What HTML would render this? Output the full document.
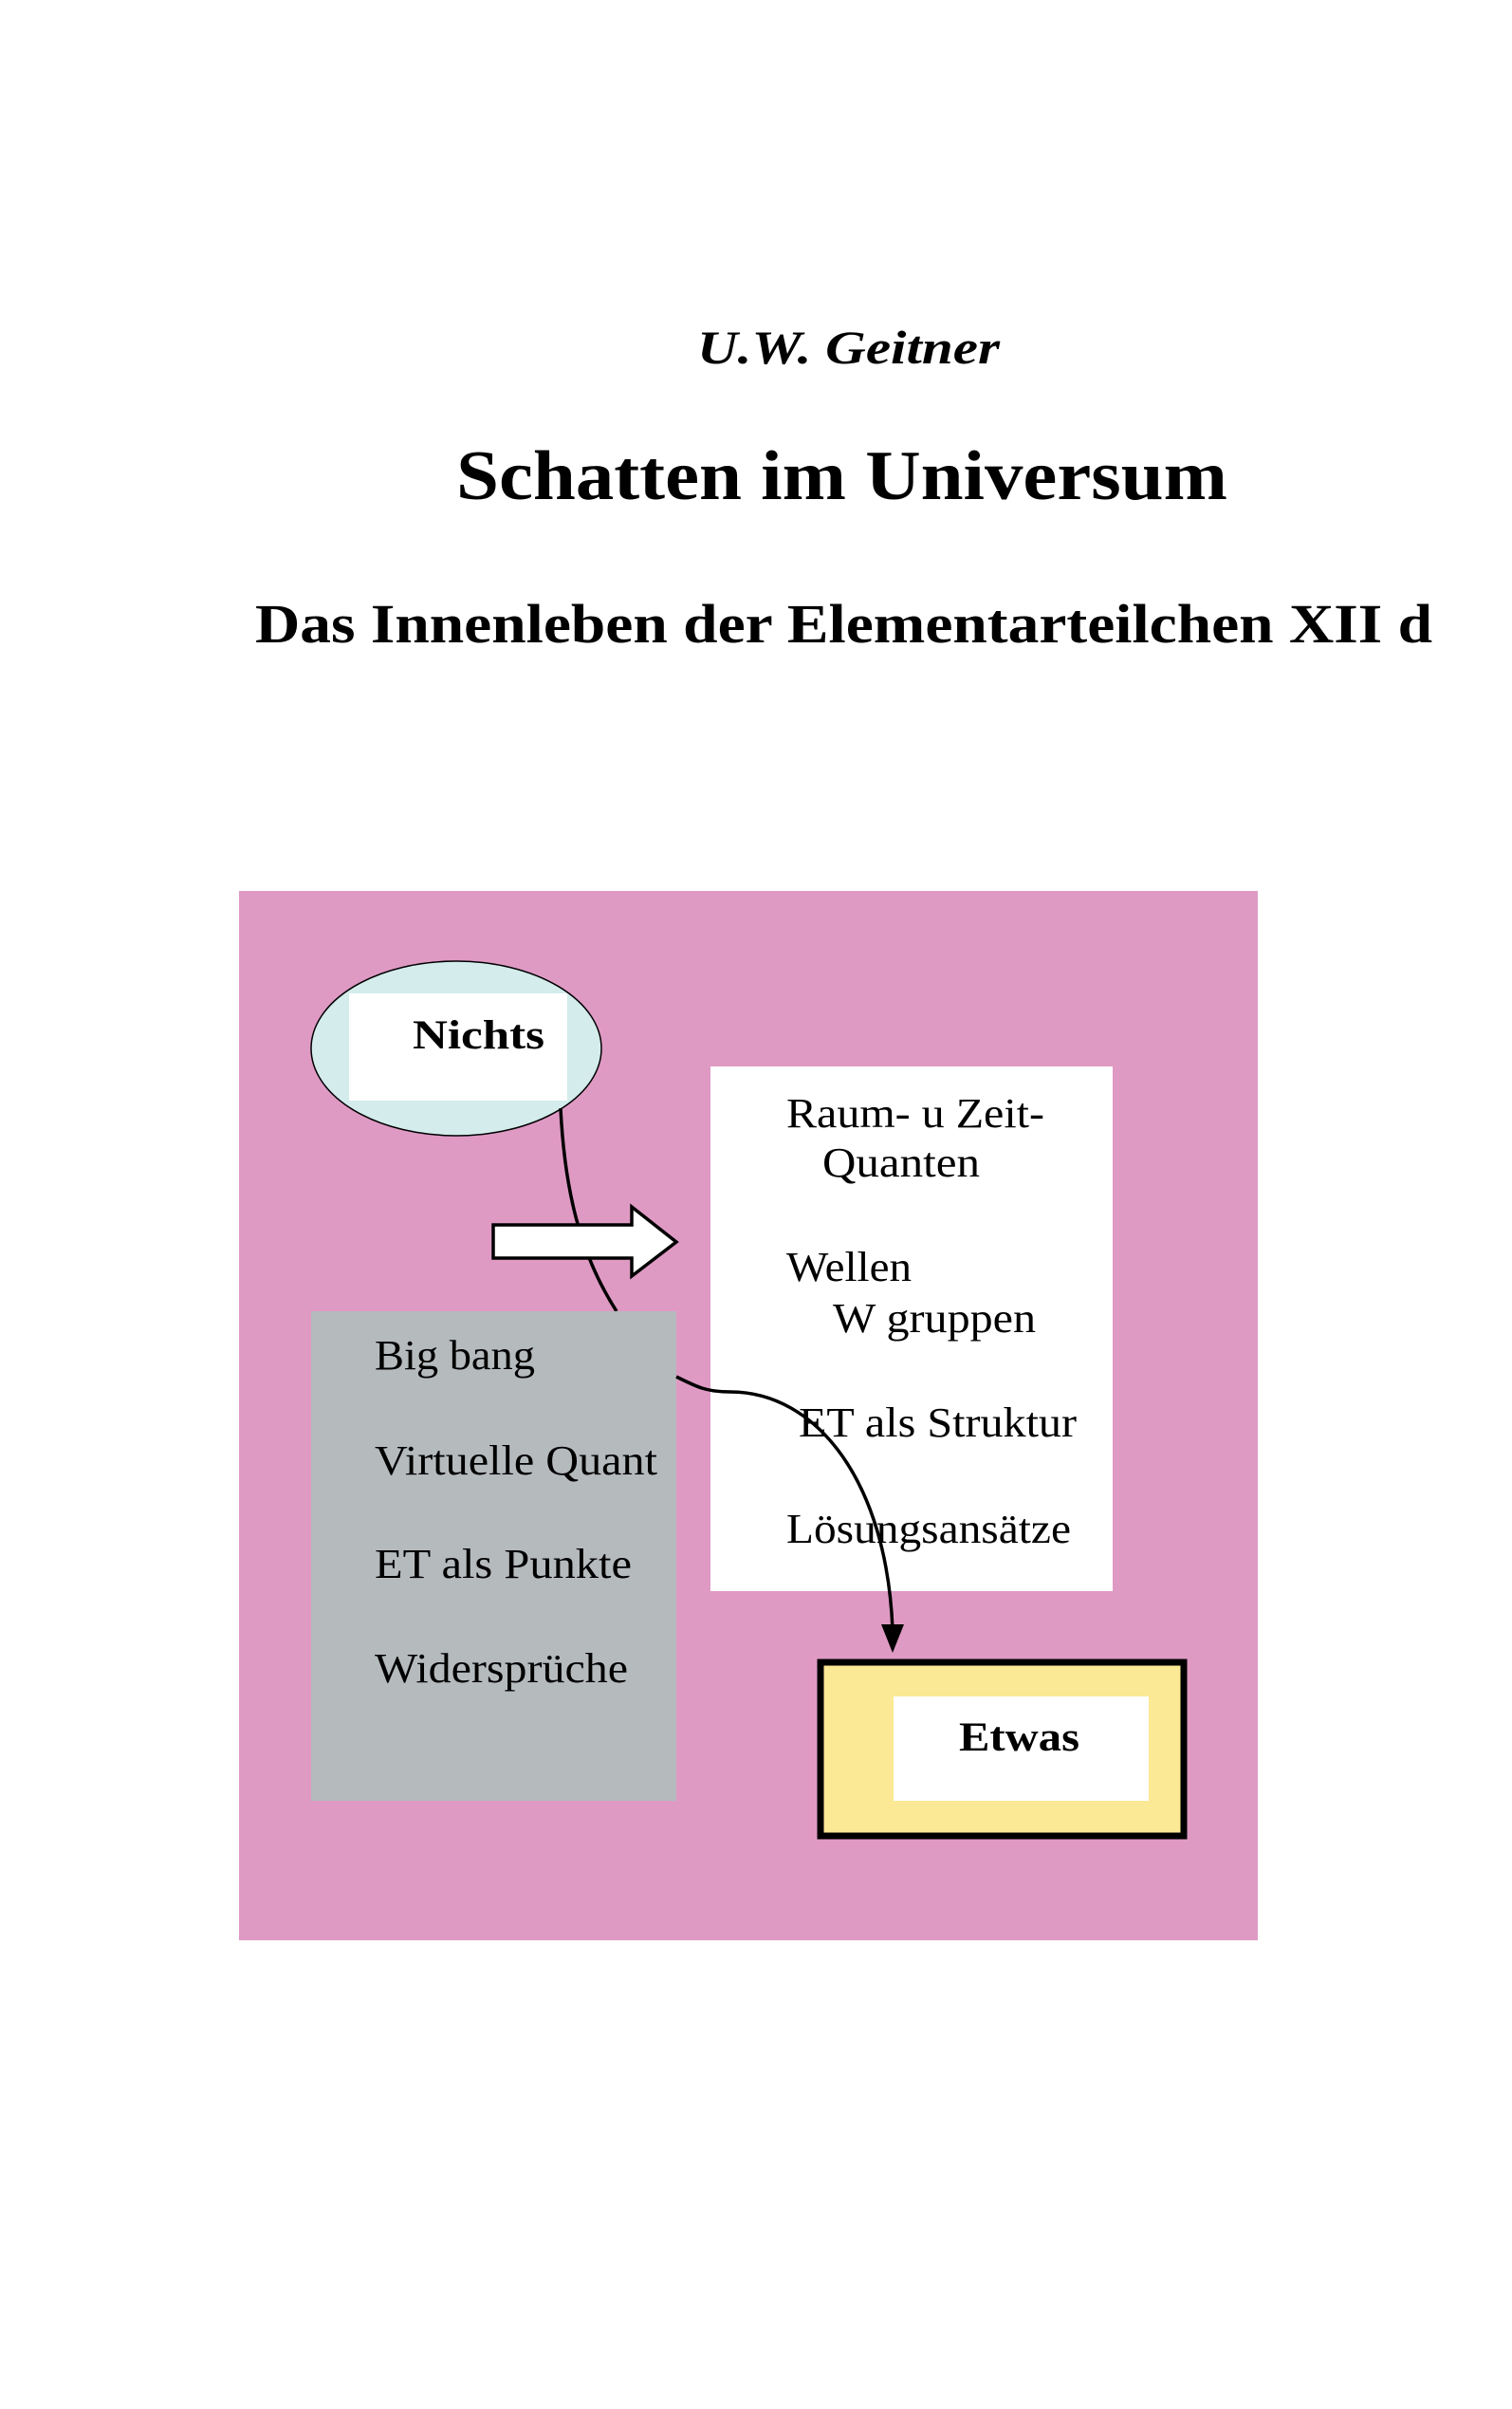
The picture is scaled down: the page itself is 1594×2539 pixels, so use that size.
<!DOCTYPE html>
<html><head><meta charset="utf-8"><style>
html,body{margin:0;padding:0;background:#fff;}
svg{display:block;}
text{font-family:"Liberation Serif",serif;fill:#000;}
</style></head><body>
<svg width="1594" height="2539" viewBox="0 0 1594 2539" xmlns="http://www.w3.org/2000/svg">
<rect width="1594" height="2539" fill="#fff"/>
<text x="735" y="383" font-size="50" font-weight="bold" font-style="italic" textLength="319" lengthAdjust="spacingAndGlyphs">U.W. Geitner</text>
<text x="481" y="526" font-size="74" font-weight="bold" textLength="813" lengthAdjust="spacingAndGlyphs">Schatten im Universum</text>
<text x="269" y="677" font-size="58" font-weight="bold" textLength="1241" lengthAdjust="spacingAndGlyphs">Das Innenleben der Elementarteilchen XII d</text>

<rect x="252" y="939" width="1074" height="1106" fill="#df9ac4"/>
<ellipse cx="481" cy="1105" rx="153" ry="92" fill="#d4ecec" stroke="#000" stroke-width="1.5"/>
<rect x="368" y="1047" width="230" height="113" fill="#fff"/>
<text x="435" y="1105" font-size="43" font-weight="bold" textLength="139" lengthAdjust="spacingAndGlyphs">Nichts</text>

<rect x="749" y="1124" width="424" height="553" fill="#fff"/>
<g font-size="44">
<text x="829" y="1188" textLength="272" lengthAdjust="spacingAndGlyphs">Raum- u Zeit-</text>
<text x="867" y="1240" textLength="166" lengthAdjust="spacingAndGlyphs">Quanten</text>
<text x="829" y="1350" textLength="132" lengthAdjust="spacingAndGlyphs">Wellen</text>
<text x="878" y="1404" textLength="214" lengthAdjust="spacingAndGlyphs">W gruppen</text>
<text x="842" y="1514" textLength="293" lengthAdjust="spacingAndGlyphs">ET als Struktur</text>
<text x="829" y="1626" textLength="300" lengthAdjust="spacingAndGlyphs">Lösungsansätze</text>
</g>

<path d="M591 1168 C595 1250 610 1320 650 1382" fill="none" stroke="#000" stroke-width="3.5"/>
<polygon points="520,1291 666,1291 666,1272 713,1309 666,1345 666,1326 520,1326" fill="#fff" stroke="#000" stroke-width="3.5"/>

<rect x="328" y="1382" width="385" height="516" fill="#b5babd"/>
<g font-size="44">
<text x="395" y="1443" textLength="169" lengthAdjust="spacingAndGlyphs">Big bang</text>
<text x="395" y="1554" textLength="298" lengthAdjust="spacingAndGlyphs">Virtuelle Quant</text>
<text x="395" y="1663" textLength="271" lengthAdjust="spacingAndGlyphs">ET als Punkte</text>
<text x="395" y="1773" textLength="267" lengthAdjust="spacingAndGlyphs">Widersprüche</text>
</g>

<path d="M713 1451 C735 1462 745 1467 770 1467 C860 1467 935 1560 941 1718" fill="none" stroke="#000" stroke-width="3.5"/>
<polygon points="929,1712 953,1712 941,1742" fill="#000"/>

<rect x="865" y="1752" width="383" height="183" fill="#fbe995" stroke="#000" stroke-width="7"/>
<rect x="942" y="1788" width="269" height="110" fill="#fff"/>
<text x="1011" y="1845" font-size="43" font-weight="bold" textLength="127" lengthAdjust="spacingAndGlyphs">Etwas</text>
</svg>
</body></html>
